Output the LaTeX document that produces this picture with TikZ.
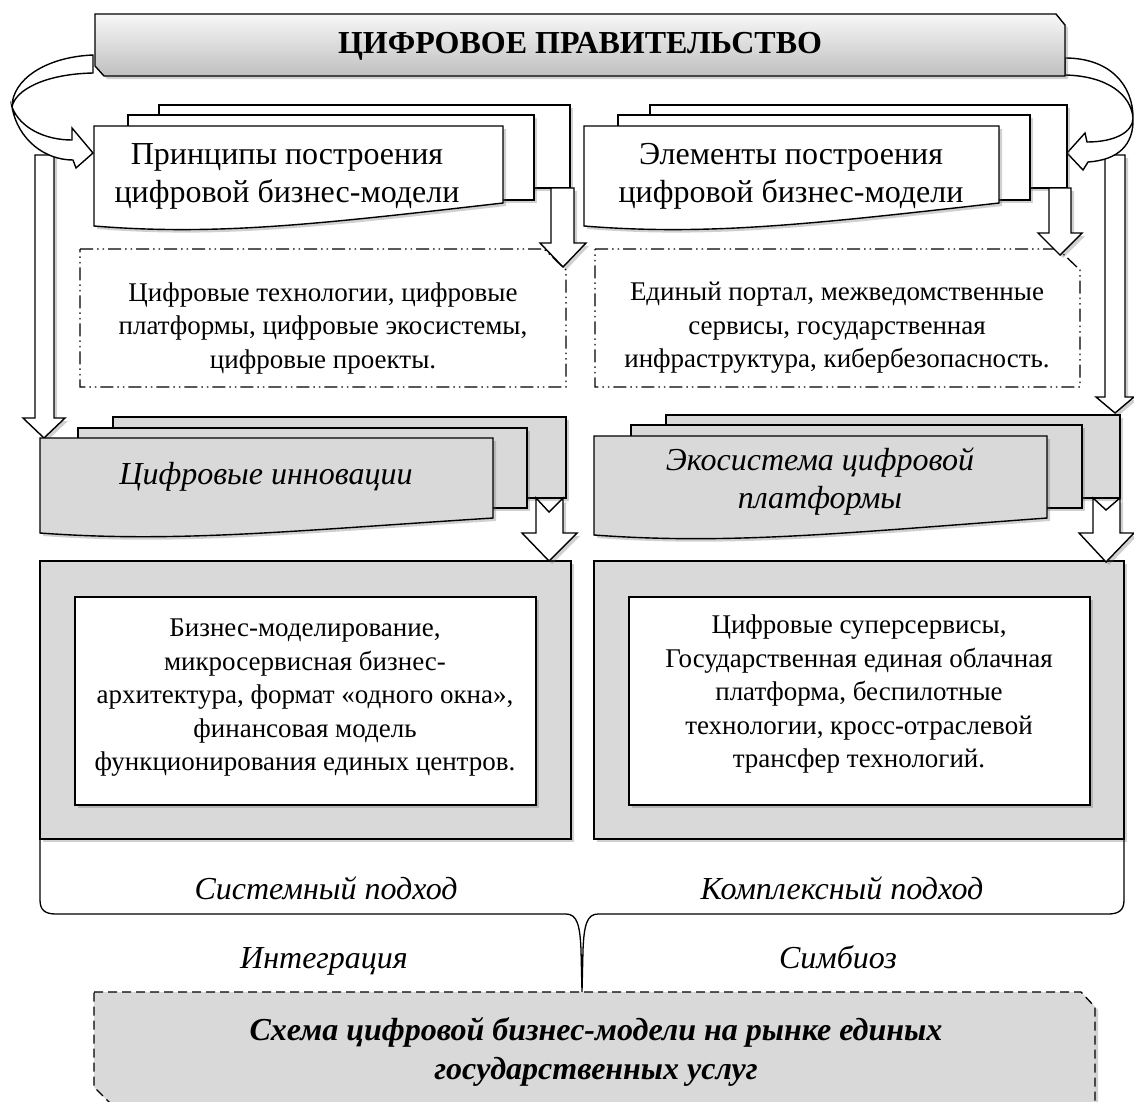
\documentclass[tikz,border=0pt]{standalone}
\usepackage{fontspec}
\setmainfont{Liberation Serif}
\usetikzlibrary{shadows}
\newcommand{\szbody}{\fontsize{27}{33.5}\selectfont}
\newcommand{\sztitle}{\fontsize{32}{38}\selectfont}
\newcommand{\szbanner}{\fontsize{32}{36}\selectfont}
\newcommand{\szsub}{\fontsize{32}{39}\selectfont}
\definecolor{boxgray}{HTML}{D9D9D9}
\tikzset{
  ln/.style={draw=black, line width=1.4pt, line join=miter},
  shd/.style={drop shadow={shadow xshift=3pt, shadow yshift=-3pt, opacity=0.3, fill=black!60}},
  wdoc/.style={ln, fill=white, shd},
  gdoc/.style={ln, fill=boxgray, shd},
  barrow/.style={ln, fill=white, shd},
  dashdot/.style={draw=black, line width=1.3pt, dash pattern=on 13pt off 4pt on 1.5pt off 4pt on 1.5pt off 4pt, fill=white},
  txt/.style={inner sep=0pt, align=center, text=black},
}
\begin{document}
\begin{tikzpicture}[x=1pt,y=-1pt]
\useasboundingbox (0,0) rectangle (1134,1101);
\fill[white] (0,0) rectangle (1134,1101);

% long side arrows
\path[barrow] (35,155) -- (54,155) -- (54,418) -- (65,418) -- (44,438) -- (23,418) -- (35,418) -- cycle;
\path[barrow] (1105,155) -- (1125,155) -- (1125,397) -- (1134,397) -- (1115,413) -- (1096,397) -- (1105,397) -- cycle;

% curved arrows
\path[ln, fill=white] (93,55) .. controls (45,57) and (12,80) .. (12,107) .. controls (15,90) and (45,74) .. (93,73) -- cycle;
\path[ln, fill=white] (12,107) .. controls (18,140) and (45,160) .. (73,160) -- (76,168) -- (93,153) -- (72,128) -- (72,140) .. controls (45,140) and (20,128) .. (12,107) -- cycle;
\path[ln, fill=white] (1065,58) .. controls (1110,58) and (1133,85) .. (1133,118) .. controls (1131,95) and (1108,76) .. (1065,75) -- cycle;
\path[ln, fill=white] (1133,118) .. controls (1133,132) and (1115,142) .. (1087,142) -- (1085,133) -- (1067,153) -- (1083,170) -- (1088,162) .. controls (1118,160) and (1134,145) .. (1133,118) -- cycle;

% banner
\path[ln, top color=gray!6, bottom color=gray!50, shd] (95,14) -- (1056,14) -- (1065,25) -- (1065,76) -- (104,76) -- (95,66) -- cycle;
\node[txt, font=\szbanner\bfseries, anchor=base] (gov) at (580,53) {ЦИФРОВОЕ ПРАВИТЕЛЬСТВО};

% top document stacks
\path[wdoc] (159,105) rectangle (570,188);
\path[wdoc] (128,115) rectangle (534,200);
\path[wdoc] (94,126) -- (503,126) -- (503,203) .. controls (319,224) and (217,236) .. (94,226) -- cycle;
\node[txt, font=\sztitle] (princ) at (287,176) {Принципы построения\\цифровой бизнес-модели};

\path[wdoc] (650,105) rectangle (1067,188);
\path[wdoc] (618,115) rectangle (1030,200);
\path[wdoc] (584,126) -- (999,126) -- (999,203) .. controls (812,224) and (708,236) .. (584,226) -- cycle;
\node[txt, font=\sztitle] (elem) at (791,176) {Элементы построения\\цифровой бизнес-модели};

% dash-dot boxes
\path[dashdot] (80,249) -- (544,249) -- (566,270) -- (566,387) -- (80,387) -- cycle;
\node[txt, font=\szbody] (tech) at (323,328) {Цифровые технологии, цифровые\\платформы, цифровые экосистемы,\\цифровые проекты.};
\path[dashdot] (595,249) -- (1058,249) -- (1080,270) -- (1080,387) -- (595,387) -- cycle;
\node[txt, font=\szbody] (portal) at (837,328) {Единый портал, межведомственные\\сервисы, государственная\\инфраструктура, кибербезопасность.};

% short arrows top
\path[barrow] (551,188) -- (574,188) -- (574,243) -- (586,243) -- (563,267) -- (540,243) -- (551,243) -- cycle;
\path[barrow] (1049,188) -- (1071,188) -- (1071,233) -- (1082,233) -- (1060,255) -- (1038,233) -- (1049,233) -- cycle;

% middle document stacks
\path[gdoc] (113,417) rectangle (566,498);
\path[gdoc] (78,428) rectangle (527,508);
\path[gdoc] (40,438) -- (493,438) -- (493,518) .. controls (289,531) and (176,543) .. (40,533) -- cycle;
\node[txt, font=\sztitle\itshape, anchor=base] (innov) at (266,484) {Цифровые инновации};

\path[gdoc] (666,415) rectangle (1120,498);
\path[gdoc] (631,425) rectangle (1082,508);
\path[gdoc] (594,436) -- (1047,436) -- (1047,518) .. controls (843,533) and (730,545) .. (594,535) -- cycle;
\node[txt, font=\sztitle\itshape] (eco) at (820,482) {Экосистема цифровой\\платформы};

% big boxes
\path[ln, fill=boxgray, shd] (40,561) rectangle (571,839);
\path[ln, fill=white, shd] (75,597) rectangle (536,805);
\node[txt, font=\szbody] (bm) at (305,698) {Бизнес-моделирование,\\микросервисная бизнес-\\архитектура, формат «одного окна»,\\финансовая модель\\функционирования единых центров.};
\path[ln, fill=boxgray, shd] (594,561) rectangle (1124,839);
\path[ln, fill=white, shd] (629,597) rectangle (1090,805);
\node[txt, font=\szbody] (ss) at (859,694) {Цифровые суперсервисы,\\Государственная единая облачная\\платформа, беспилотные\\технологии, кросс-отраслевой\\трансфер технологий.};

% notched arrows
\path[barrow] (536,498) -- (549,512) -- (563,498) -- (563,533) -- (577,533) -- (549,561) -- (522,533) -- (536,533) -- cycle;
\path[barrow] (1093,498) -- (1106,510) -- (1120,498) -- (1120,533) -- (1134,533) -- (1106,562) -- (1079,533) -- (1093,533) -- cycle;

% brace
\draw[line width=1.3pt] (40,839) -- (40,900) .. controls (40,910) and (45,914) .. (56,914) -- (566,914) .. controls (577,914) and (580,925) .. (581,950) -- (582,992) -- (583,950) .. controls (584,925) and (587,914) .. (598,914) -- (1108,914) .. controls (1119,914) and (1124,910) .. (1124,900) -- (1124,839);

\node[txt, font=\szsub\itshape, anchor=base] (sys) at (326,899) {Системный подход};
\node[txt, font=\szsub\itshape, anchor=base] (kom) at (842,899) {Комплексный подход};
\node[txt, font=\szsub\itshape, anchor=base] (integ) at (324,968) {Интеграция};
\node[txt, font=\szsub\itshape, anchor=base] (simb) at (838,968) {Симбиоз};

% bottom box
\path[draw=black, line width=1.3pt, dash pattern=on 9pt off 5pt, fill=boxgray, shd] (94,992) -- (1081,992) -- (1095,1007) -- (1095,1104) -- (111,1104) -- (94,1087) -- cycle;
\node[txt, font=\szsub\bfseries\itshape] (scheme) at (596,1052) {Схема цифровой бизнес-модели на рынке единых\\государственных услуг};
\end{tikzpicture}
\end{document}
